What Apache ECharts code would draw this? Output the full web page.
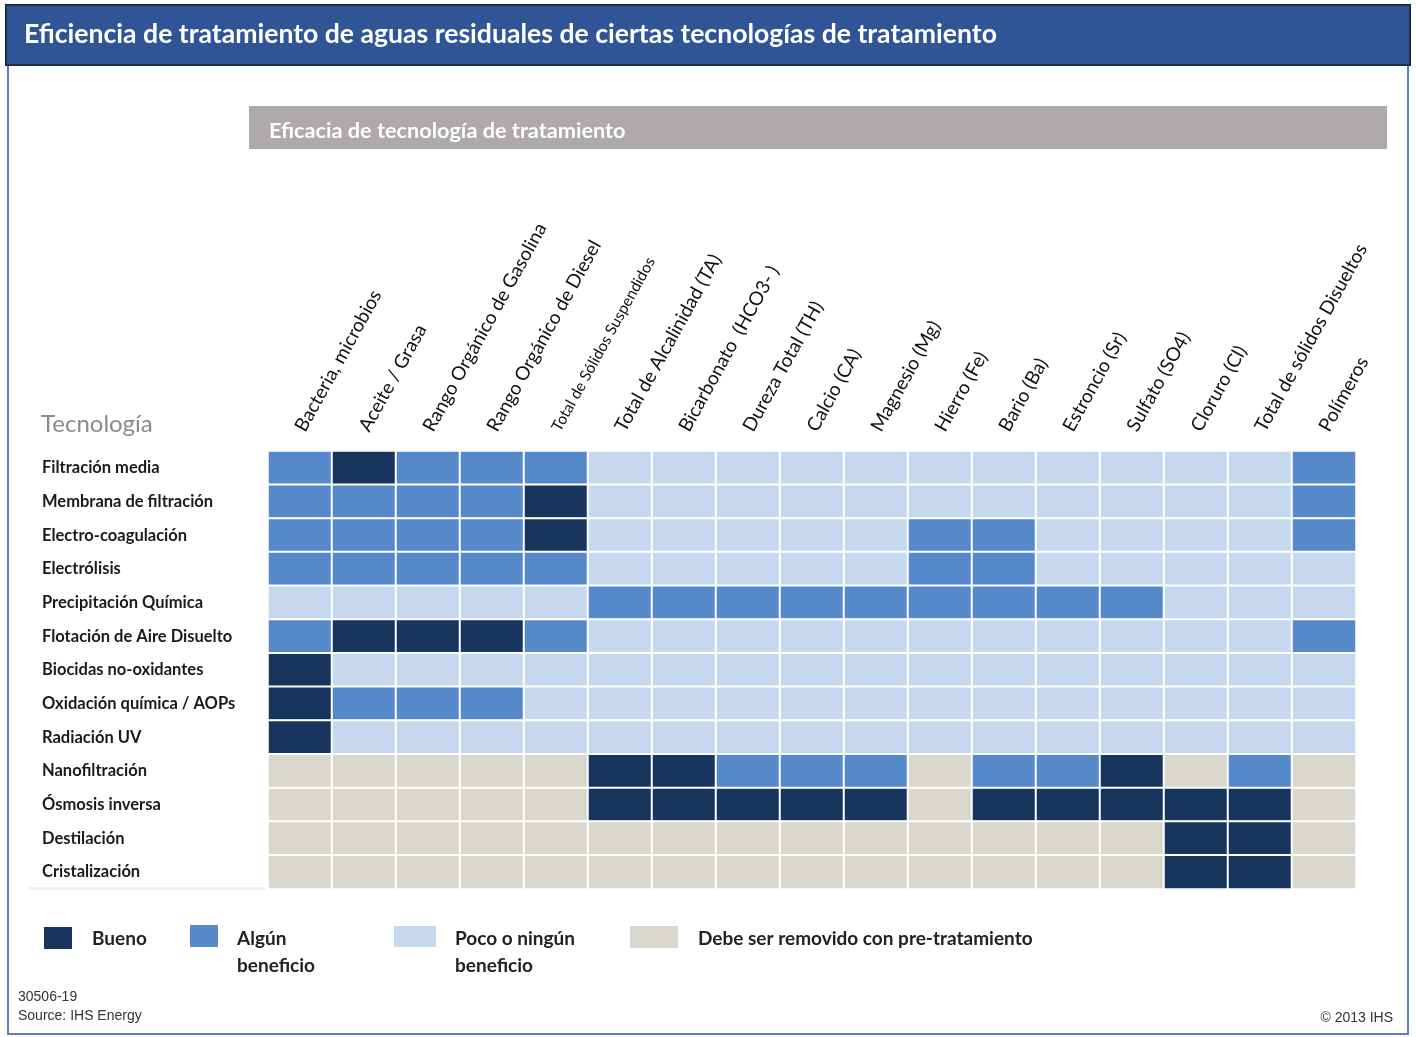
<!DOCTYPE html>
<html>
<head>
<meta charset="utf-8">
<script src="https://cdn.jsdelivr.net/npm/echarts@6/dist/echarts.min.js"></script>
<style>
  html, body { margin: 0; padding: 0; background: #fff; }
  #main { width: 1416px; height: 1037px; }
</style>
</head>
<body>
<div id="main"></div>
<script>
// columnas (parámetros) y filas (tecnologías)
let parametros = [
  'Bacteria, microbios', 'Aceite / Grasa', 'Rango Orgánico de Gasolina',
  'Rango Orgánico de Diesel', 'Total de Sólidos Suspendidos',
  'Total de Alcalinidad (TA)', 'Bicarbonato  (HCO3- )', 'Dureza Total (TH)',
  'Calcio (CA)', 'Magnesio (Mg)', 'Hierro (Fe)', 'Bario (Ba)',
  'Estroncio (Sr)', 'Sulfato (SO4)', 'Cloruro (Cl)',
  'Total de sólidos Disueltos', 'Polímeros'
]
let tecnologias = [
  'Filtración media', 'Membrana de filtración', 'Electro-coagulación',
  'Electrólisis', 'Precipitación Química', 'Flotación de Aire Disuelto',
  'Biocidas no-oxidantes', 'Oxidación química / AOPs', 'Radiación UV',
  'Nanofiltración', 'Ósmosis inversa', 'Destilación', 'Cristalización'
]
// 3 = Bueno, 2 = Algún beneficio, 1 = Poco o ningún beneficio, 0 = pre-tratamiento
let filtracionMedia   = [2, 3, 2, 2, 2, 1, 1, 1, 1, 1, 1, 1, 1, 1, 1, 1, 2]
let membrana          = [2, 2, 2, 2, 3, 1, 1, 1, 1, 1, 1, 1, 1, 1, 1, 1, 2]
let electroCoag       = [2, 2, 2, 2, 3, 1, 1, 1, 1, 1, 2, 2, 1, 1, 1, 1, 2]
let electrolisis      = [2, 2, 2, 2, 2, 1, 1, 1, 1, 1, 2, 2, 1, 1, 1, 1, 1]
let precipitacion     = [1, 1, 1, 1, 1, 2, 2, 2, 2, 2, 2, 2, 2, 2, 1, 1, 1]
let flotacion         = [2, 3, 3, 3, 2, 1, 1, 1, 1, 1, 1, 1, 1, 1, 1, 1, 2]
let biocidas          = [3, 1, 1, 1, 1, 1, 1, 1, 1, 1, 1, 1, 1, 1, 1, 1, 1]
let oxidacion         = [3, 2, 2, 2, 1, 1, 1, 1, 1, 1, 1, 1, 1, 1, 1, 1, 1]
let radiacionUV       = [3, 1, 1, 1, 1, 1, 1, 1, 1, 1, 1, 1, 1, 1, 1, 1, 1]
let nanofiltracion    = [0, 0, 0, 0, 0, 3, 3, 2, 2, 2, 0, 2, 2, 3, 0, 2, 0]
let osmosis           = [0, 0, 0, 0, 0, 3, 3, 3, 3, 3, 0, 3, 3, 3, 3, 3, 0]
let destilacion       = [0, 0, 0, 0, 0, 0, 0, 0, 0, 0, 0, 0, 0, 0, 3, 3, 0]
let cristalizacion    = [0, 0, 0, 0, 0, 0, 0, 0, 0, 0, 0, 0, 0, 0, 3, 3, 0]

let filas = [filtracionMedia, membrana, electroCoag, electrolisis, precipitacion,
  flotacion, biocidas, oxidacion, radiacionUV, nanofiltracion, osmosis,
  destilacion, cristalizacion]

let niveles = [3, 2, 1, 0]
let nivelNombres = ['Bueno', 'Algún\nbeneficio', 'Poco o ningún\nbeneficio', 'Debe ser removido con pre-tratamiento']
let colores = ['#18355e', '#5589c9', '#c5d8ee', '#dad8cc']

let data = []
filas.forEach((fila, y) => {
  fila.forEach((v, x) => data.push([x, y, v]))
})

const FONT = 'Lato, "Open Sans", sans-serif'

// leyenda dibujada a mano (cajas con anchos distintos como en el original)
let leyendaCajas = [[44, 927, 28, 22], [190, 925, 28, 22], [394, 926, 42, 21], [630, 926, 48, 22]]
let leyendaTextoX = [92, 237, 455, 698]
let leyenda = []
niveles.forEach((n, i) => {
  let b = leyendaCajas[i]
  leyenda.push({
    type: 'rect', shape: { x: b[0], y: b[1], width: b[2], height: b[3] },
    style: { fill: colores[i] }, z: 10
  })
  leyenda.push({
    type: 'text', x: leyendaTextoX[i], y: 925,
    style: { text: nivelNombres[i], font: 'bold 19px ' + FONT, fill: '#222', lineHeight: 27 },
    z: 10
  })
})

var myChart = echarts.init(document.getElementById('main'))
var option = {
  backgroundColor: '#fff',
  animation: false,
  grid: { left: 268, right: 60, top: 451, bottom: 148 },
  xAxis: {
    type: 'category',
    position: 'top',
    data: parametros.map((p) => p.startsWith('Total de Sólidos')
      ? { value: p, textStyle: { fontSize: 15.5 } } : p),
    axisLine: { show: false },
    axisTick: { show: false },
    splitLine: { show: false },
    axisLabel: {
      rotate: -61, margin: 21, interval: 0,
      fontFamily: FONT, fontSize: 19, color: '#111'
    }
  },
  yAxis: {
    type: 'category',
    inverse: true,
    data: tecnologias,
    axisLine: { show: false },
    axisTick: { show: false },
    axisLabel: {
      align: 'left', margin: 226, interval: 0,
      fontFamily: FONT, fontSize: 16.5, fontWeight: 'bold', color: '#1a1a1a'
    }
  },
  visualMap: {
    show: false,
    type: 'piecewise',
    dimension: 2,
    pieces: niveles.map((n, i) => ({ value: n, color: colores[i] }))
  },
  series: [{
    type: 'heatmap',
    data,
    itemStyle: { borderColor: '#fff', borderWidth: 2 },
    emphasis: { disabled: true }
  }],
  graphic: [
    // marco exterior
    { type: 'rect', shape: { x: 8, y: 6, width: 1400, height: 1028 },
      style: { fill: 'none', stroke: '#5b7fc2', lineWidth: 2 }, z: 1 },
    // barra del título
    { type: 'rect', shape: { x: 6, y: 5, width: 1404, height: 60 },
      style: { fill: '#2f5597', stroke: '#1c2c4c', lineWidth: 2 }, z: 2 },
    { type: 'text', x: 24, y: 34,
      style: { text: 'Eficiencia de tratamiento de aguas residuales de ciertas tecnologías de tratamiento',
        font: 'bold 26.6px ' + FONT, fill: '#fff', verticalAlign: 'middle' }, z: 3 },
    // barra gris
    { type: 'rect', shape: { x: 249, y: 106, width: 1138, height: 43 },
      style: { fill: '#aeaaa9' }, z: 2 },
    { type: 'text', x: 269, y: 131,
      style: { text: 'Eficacia de tecnología de tratamiento',
        font: 'bold 21.7px ' + FONT, fill: '#fff', verticalAlign: 'middle' }, z: 3 },
    { type: 'text', x: 41, y: 424,
      style: { text: 'Tecnología', font: '24px ' + FONT, fill: '#8a8a8a', verticalAlign: 'middle' }, z: 3 },
    { type: 'rect', shape: { x: 28, y: 887, width: 238, height: 3 },
      style: { fill: '#f1f1ee' }, z: 2 },
    ...leyenda,
    { type: 'text', x: 18, y: 997,
      style: { text: '30506-19', font: '14px "Liberation Sans Narrow", "Liberation Sans", sans-serif',
        fill: '#333', verticalAlign: 'middle' }, z: 3 },
    { type: 'text', x: 18, y: 1016,
      style: { text: 'Source: IHS Energy', font: '14px "Liberation Sans Narrow", "Liberation Sans", sans-serif',
        fill: '#333', verticalAlign: 'middle' }, z: 3 },
    { type: 'text', x: 1393, y: 1018,
      style: { text: '© 2013 IHS', font: '14px "Liberation Sans Narrow", "Liberation Sans", sans-serif',
        fill: '#333', align: 'right', verticalAlign: 'middle' }, z: 3 }
  ]
}
myChart.setOption(option)
</script>
</body>
</html>
